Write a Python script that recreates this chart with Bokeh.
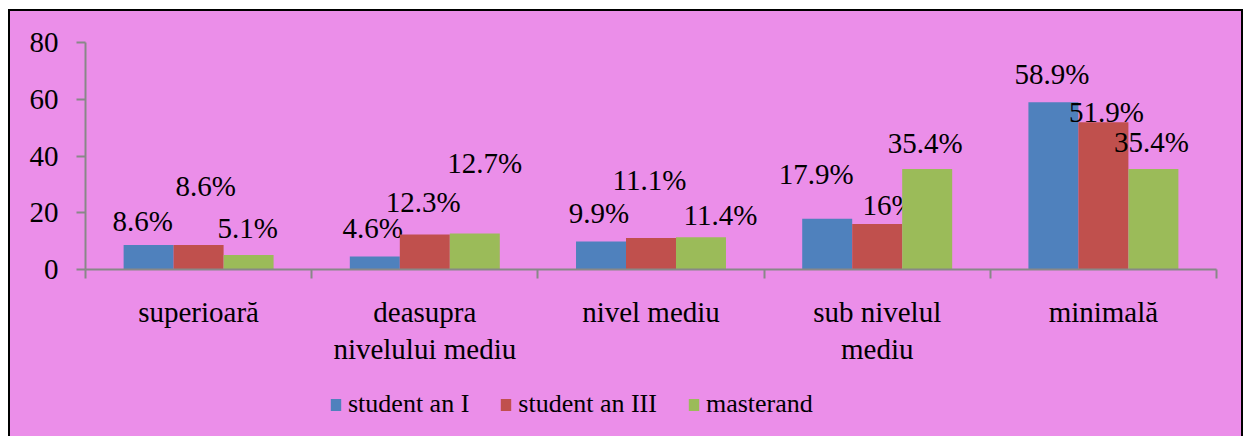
from bokeh.plotting import figure
from bokeh.models import FixedTicker, Range1d, Legend, LegendItem, ColumnDataSource, LinearAxis
from bokeh.layouts import column
from bokeh.core.properties import value
from bokeh.embed import file_html
from bokeh.resources import INLINE
import numpy as np

# ---- data ----
categories_line1 = ["superioară", "deasupra", "nivel mediu", "sub nivelul", "minimală"]
categories_line2 = ["", "nivelului mediu", "", "mediu", ""]
series_names = ["student an I", "student an III", "masterand"]
student_an_I = [8.6, 4.6, 9.9, 17.9, 58.9]
student_an_III = [8.6, 12.3, 11.1, 16.0, 51.9]
masterand = [5.1, 12.7, 11.4, 35.4, 35.4]
y_ticks = [0, 20, 40, 60, 80]

# ---- style ----
FONT = "Liberation Serif"
FS = "29px"
colors = ["#4F81BD", "#C0504D", "#9BBB59"]
bg = "#EB8EE9"
axis_col = "#888888"
bar_w = 0.221
dodge = [-0.221, 0.0, 0.221]
# label offsets in screen px (dx, dy) relative to bar top centre (manual placements)
label_dx = [[-6, -2, -2, -11, -1.5], [7, -1.5, -1.5, 12, 3], [-1, 10, 19.5, -2, -2]]
label_dy = [[-14.6, -19, -19, -36, -19], [-50, -24, -49.5, -10.6, -1.7], [-18.5, -61, -12.7, -17.5, -18.5]]
label_shift = -9

n = len(categories_line1)
p = figure(frame_width=1131, frame_height=227, output_backend="svg", toolbar_location=None,
           x_range=Range1d(0, n), y_range=Range1d(0, 80),
           min_border_left=75, min_border_right=25, min_border_top=31, min_border_bottom=0)
p.background_fill_alpha = 0
p.border_fill_alpha = 0
p.outline_line_color = None
p.outline_line_alpha = 0
p.xgrid.visible = False
p.ygrid.visible = False

centers = np.arange(n) + 0.5
all_series = [student_an_I, student_an_III, masterand]
for k, vals in enumerate(all_series):
    xs = centers + dodge[k]
    p.vbar(x=xs, top=vals, width=bar_w, fill_color=colors[k], line_color=None)
    src = ColumnDataSource(dict(x=xs, y=vals, t=[f"{v:g}%" for v in vals],
                                dx=label_dx[k], dy=[d + label_shift for d in label_dy[k]]))
    p.text(x="x", y="y", text="t", x_offset="dx", y_offset="dy", source=src,
           text_font=value(FONT), text_font_size=FS, text_color="black",
           text_align="center", text_baseline="alphabetic")

# y axis
ya = p.yaxis[0]
ya.ticker = FixedTicker(ticks=y_ticks)
ya.axis_line_color = axis_col
ya.axis_line_width = 2
ya.major_tick_line_color = axis_col
ya.major_tick_line_width = 2
ya.major_tick_in = 0
ya.major_tick_out = 9
ya.minor_tick_line_color = None
ya.major_label_text_font = FONT
ya.major_label_text_font_size = FS
ya.major_label_text_color = "black"
ya.major_label_standoff = 18

# x axis (first line of category labels, boundary ticks)
xa = p.xaxis[0]
xa.ticker = FixedTicker(ticks=list(centers), minor_ticks=list(range(n + 1)))
xa.major_label_overrides = {float(c): s for c, s in zip(centers, categories_line1)}
xa.axis_line_color = axis_col
xa.axis_line_width = 2
xa.major_tick_line_color = None
xa.major_tick_out = 9
xa.minor_tick_line_color = axis_col
xa.minor_tick_line_width = 2
xa.minor_tick_in = 0
xa.minor_tick_out = 9
xa.major_label_text_font = FONT
xa.major_label_text_font_size = FS
xa.major_label_text_color = "black"
xa.major_label_standoff = 17

# second line of category labels
xa2 = LinearAxis(ticker=FixedTicker(ticks=list(centers)),
                 major_label_overrides={float(c): (s if s else " ") for c, s in zip(centers, categories_line2)},
                 axis_line_color=None, major_tick_line_color=None, minor_tick_line_color=None,
                 major_tick_in=0, major_tick_out=0, major_label_standoff=2,
                 major_label_text_font=FONT, major_label_text_font_size=FS,
                 major_label_text_color="black")
p.add_layout(xa2, "below")

# legend strip below the chart (its bars lie outside its empty view, only the legend shows)
pl = figure(frame_width=1231, frame_height=72, output_backend="svg", toolbar_location=None,
            x_range=Range1d(-20, -19), y_range=Range1d(0, 1),
            x_axis_location=None, y_axis_location=None, min_border=0)
pl.background_fill_alpha = 0
pl.border_fill_alpha = 0
pl.outline_line_color = None
pl.xgrid.visible = False
pl.ygrid.visible = False
items = []
for k, vals in enumerate(all_series):
    r = pl.vbar(x=centers + dodge[k], top=vals, width=bar_w, fill_color=colors[k], line_color=None)
    items.append(LegendItem(label=series_names[k], renderers=[r]))
legend = Legend(items=items, orientation="horizontal", location=(319, 20),
                glyph_width=13, glyph_height=15, label_standoff=6, spacing=30,
                label_text_font=FONT, label_text_font_size="26px", label_text_color="black",
                background_fill_alpha=0, border_line_color=None, padding=0, margin=0)
pl.add_layout(legend, "center")

layout = column(p, pl, spacing=0)
layout.styles = {"border": "2px solid black", "margin-left": "8px", "margin-top": "9px",
                 "background-color": bg}

open("out.html", "w").write(file_html(layout, INLINE))
